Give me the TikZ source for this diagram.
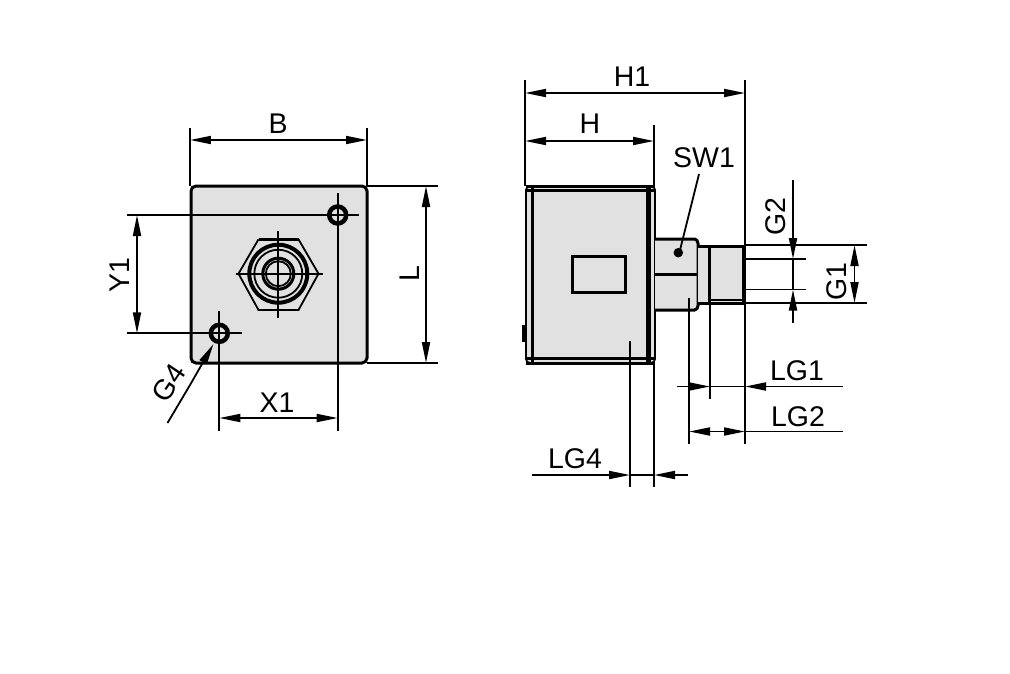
\documentclass[tikz,border=0pt]{standalone}
\usepackage{fontspec}
\setmainfont{Liberation Sans}
\usetikzlibrary{arrows.meta}
\definecolor{bodygray}{HTML}{E1E1E1}
\tikzset{
	thinl/.style={line width=0.036cm},
	thickl/.style={line width=0.06cm},
	tip/.style={-{Triangle[length=0.42cm,width=0.16cm]},thinl},
	twotip/.style={{Triangle[length=0.42cm,width=0.16cm]}-{Triangle[length=0.42cm,width=0.16cm]},thinl},
	lab/.style={font=\fontsize{16.2pt}{18pt}\selectfont,inner sep=0pt},
}
\begin{document}
\begin{tikzpicture}[x=0.02cm,y=-0.02cm]
	\useasboundingbox (0,0) rectangle (1010,673);
	\draw[thickl,fill=bodygray,rounded corners=0.1cm] (191,186) rectangle (367,363);
	\draw[thinl,fill=bodygray,rounded corners=0.08cm] (526,186) rectangle (655,363);
	\draw[thickl,fill=bodygray,rounded corners=0.03cm] (655,239) -- (696,239) -- (698,242) -- (698,307) -- (696,310) -- (655,310);
	\draw[thickl,fill=bodygray] (698,246) -- (744,246) -- (744,303) -- (698,303);
	\draw[thickl] (709.5,246) -- (709.5,303);
	\draw[thinl] (709.5,300) -- (744,300);
	\draw[line width=0.09cm] (744,247) -- (744,302);
	\draw[thickl] (532,186) -- (532,363);
	\draw[line width=0.09cm] (648.5,186) -- (648.5,363);
	\draw[thickl] (526,186) -- (655,186);
	\draw[thickl] (526,363) -- (655,363);
	\draw[thickl] (526,190.5) -- (655,190.5);
	\draw[thickl] (526,358) -- (655,358);
	\draw[thickl] (655,274.5) -- (698,274.5);
	\draw[thickl] (572.5,256) rectangle (625.5,292.5);
	\draw[thickl] (523,325) -- (523,342);
	\draw[thinl] (238.5,273.7) -- (258.5,239.3);
	\draw[thickl] (258.5,239.3) -- (298.5,239.3);
	\draw[thinl] (298.5,239.3) -- (318.5,273.7) -- (298.5,310) -- (258.5,310) -- (238.5,273.7);
	\draw[line width=0.08cm] (278.3,273.7) circle (0.58cm);
	\draw[thinl] (278.3,273.7) circle (0.48cm);
	\draw[thickl] (278.3,273.7) circle (0.31cm);
	\draw[thinl] (278.3,273.7) circle (0.25cm);
	\draw[thinl] (278.3,231) -- (278.3,318);
	\draw[thinl] (235.5,273.7) -- (322.5,273.7);
	\foreach \hx/\hy in {337.7/215,219.3/333.3}{
		\draw[line width=0.09cm] (\hx,\hy) circle (0.17cm);
	}
	\draw[thinl] (190,128) -- (190,186);
	\draw[thinl] (367,128) -- (367,186);
	\draw[twotip] (190,140) -- (367,140);
	\draw[thinl] (367,186) -- (438,186);
	\draw[thinl] (367,363) -- (438,363);
	\draw[twotip] (426,186) -- (426,363);
	\draw[thinl] (127,215) -- (359,215);
	\draw[thinl] (127,333.3) -- (242,333.3);
	\draw[twotip] (137,215) -- (137,333.3);
	\draw[thinl] (337.7,193) -- (337.7,431);
	\draw[thinl] (219.3,311) -- (219.3,431);
	\draw[twotip] (219.3,418) -- (337.7,418);
	\draw[thinl] (167.5,423) -- (190,385);
	\draw[tip] (190,385) -- (213.5,344);
	\draw[thinl] (525,80) -- (525,186);
	\draw[thinl] (745,80) -- (745,245);
	\draw[thinl] (654,125) -- (654,186);
	\draw[twotip] (525,93) -- (745,93);
	\draw[twotip] (525,141) -- (654,141);
	\draw[thinl] (699,174) -- (680,250);
	\fill (678.3,252.7) circle (0.095cm);
	\draw[thinl] (745,245) -- (866.5,245);
	\draw[thinl] (745,303) -- (866.5,303);
	\draw[thinl] (745,259) -- (805.5,259);
	\draw[thinl] (745,289.5) -- (805.5,289.5);
	\draw[thinl] (793,180) -- (793,238);
	\draw[tip] (793,238) -- (793,259);
	\draw[thinl] (793,259) -- (793,289.5);
	\draw[tip] (793,310) -- (793,289.5);
	\draw[thinl] (793,310) -- (793,323);
	\draw[twotip] (854.5,245) -- (854.5,303);
	\draw[thinl] (745,303) -- (745,444);
	\draw[thinl] (689,298) -- (689,444);
	\draw[thinl] (710,303) -- (710,399);
	\draw[thinl] (630,341) -- (630,487);
	\draw[thinl] (654,363) -- (654,487);
	\draw[thinl] (677,386.5) -- (689,386.5);
	\draw[tip] (689,386.5) -- (710,386.5);
	\draw[thinl] (710,386.5) -- (745,386.5);
	\draw[tip] (843,386.5) -- (745,386.5);
	\draw[tip] (717,431.5) -- (689,431.5);
	\draw[tip] (717,431.5) -- (745,431.5);
	\draw[thinl] (745,431.5) -- (843,431.5);
	\draw[tip] (532,475) -- (630,475);
	\draw[thinl] (630,475) -- (654,475);
	\draw[tip] (688,475) -- (654,475);
	\node[lab] (labB) at (278,124) {B};
	\node[lab,rotate=90] (labL) at (410,274) {L};
	\node[lab,rotate=90] (labYa) at (120,275) {Y1};
	\node[lab] (labXa) at (277,403) {X1};
	\node[lab,rotate=56] (labGd) at (169,383) {G4};
	\node[lab] (labHa) at (632,77) {H1};
	\node[lab] (labH) at (590,124) {H};
	\node[lab] (labSW) at (704,158) {SW1};
	\node[lab,rotate=90] (labGb) at (776,217) {G2};
	\node[lab,rotate=90] (labGa) at (837,282) {G1};
	\node[lab] (labLGa) at (797,371) {LG1};
	\node[lab] (labLGb) at (798,417) {LG2};
	\node[lab] (labLGd) at (575,459) {LG4};
\end{tikzpicture}
\end{document}
